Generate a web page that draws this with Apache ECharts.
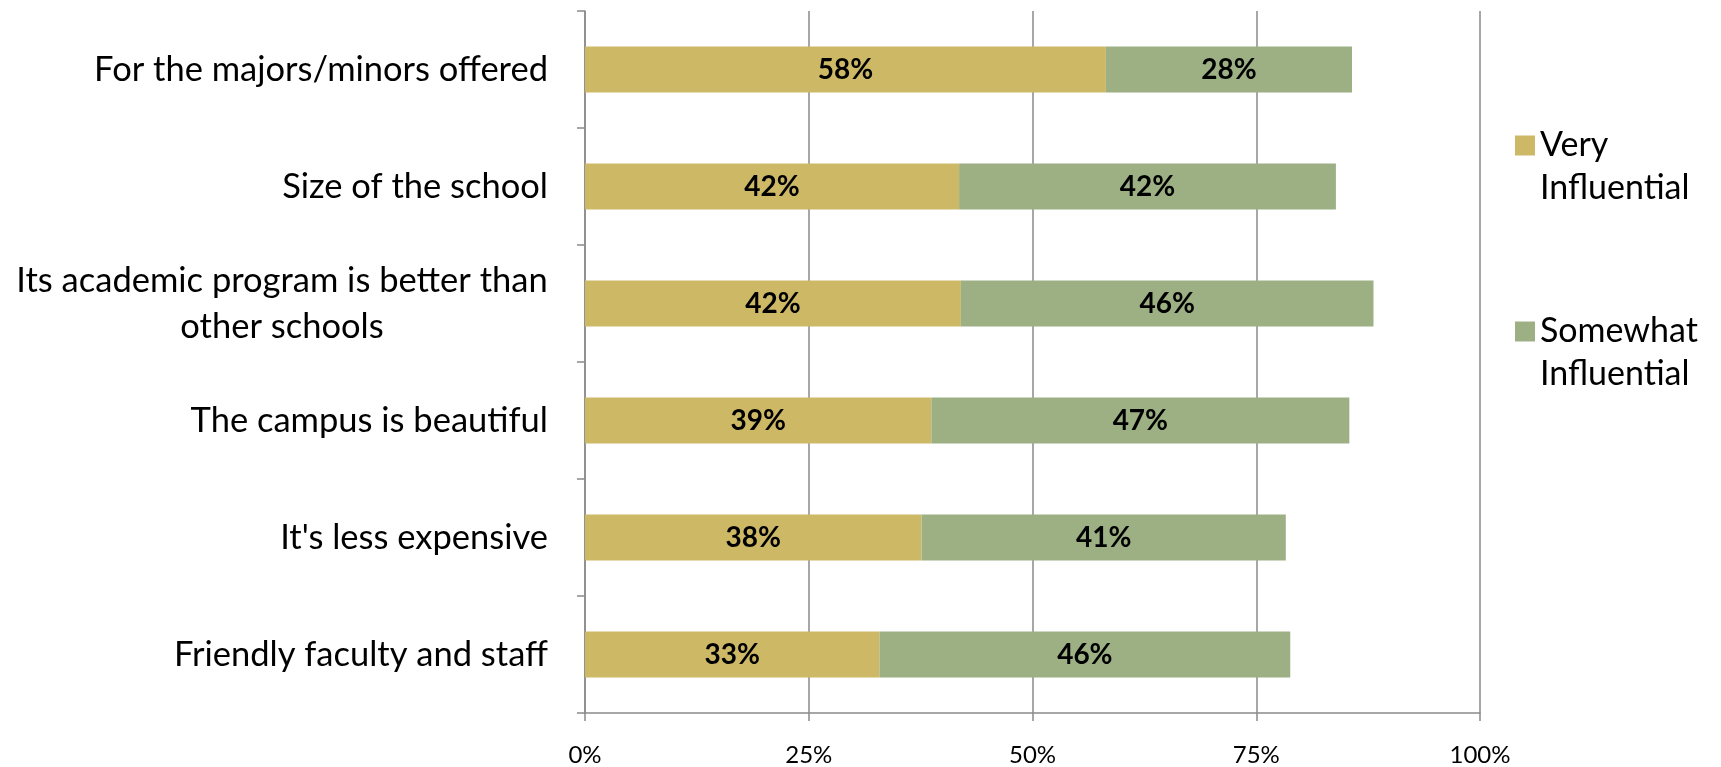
<!DOCTYPE html>
<html>
<head>
<meta charset="utf-8">
<script src="https://cdn.jsdelivr.net/npm/echarts@6/dist/echarts.min.js"></script>
<style>
html,body{margin:0;padding:0;background:#fff;}
#chart{width:1721px;height:767px;}
</style>
</head>
<body>
<div id="chart"></div>
<script>
const categories = [
  'For the majors/minors offered',
  'Size of the school',
  'Its academic program is better than\nother schools',
  'The campus is beautiful',
  "It's less expensive",
  'Friendly faculty and staff'
];
const veryInfluential = [58.2, 41.8, 42.0, 38.7, 37.6, 32.9];
const somewhatInfluential = [27.5, 42.1, 46.1, 46.7, 40.7, 45.9];
const seriesNames = ['Very Influential', 'Somewhat Influential'];
const xTicks = [0, 25, 50, 75, 100];

const FONT = 'Lato';
const catSize = 34.5;
const ctx = document.createElement('canvas').getContext('2d');
ctx.font = catSize + 'px ' + FONT;
let maxLineW = 0;
categories.forEach(c => {
  if (c.indexOf('\n') >= 0) {
    c.split('\n').forEach(l => { maxLineW = Math.max(maxLineW, ctx.measureText(l).width); });
  }
});

const chart = echarts.init(document.getElementById('chart'));
const gridColor = '#8a8a8a';
chart.setOption({
  animation: false,
  textStyle: { fontFamily: FONT },
  grid: { left: 585, right: 241, top: 11, bottom: 51, containLabel: false },
  legend: {
    orient: 'vertical',
    left: 1510,
    top: 76,
    itemWidth: 20,
    itemHeight: 20,
    itemGap: 57,
    icon: 'rect',
    data: seriesNames,
    formatter: n => ' \n' + n.replace(' ', '\n'),
    textStyle: { fontFamily: FONT, fontSize: 34, lineHeight: 43, color: '#000' }
  },
  xAxis: {
    type: 'value',
    min: xTicks[0],
    max: xTicks[xTicks.length - 1],
    interval: 25,
    axisLine: { show: true, lineStyle: { color: gridColor, width: 1.5 } },
    axisTick: { show: true, length: 8, lineStyle: { color: gridColor, width: 1.5 } },
    splitLine: { show: true, lineStyle: { color: gridColor, width: 1.5 } },
    axisLabel: {
      formatter: '{value}%',
      fontFamily: FONT,
      fontSize: 24,
      color: '#000',
      margin: 30
    }
  },
  yAxis: {
    type: 'category',
    inverse: true,
    data: categories,
    axisLine: { show: true, lineStyle: { color: gridColor, width: 1.5 } },
    axisTick: { show: true, length: 8, lineStyle: { color: gridColor, width: 1.5 } },
    axisLabel: {
      fontFamily: FONT,
      fontSize: catSize,
      lineHeight: 46,
      color: '#000',
      margin: 37,
      formatter: v => v.indexOf('\n') >= 0 ? v.split('\n').map(l => '{c|' + l + '}').join('\n') : v,
      rich: {
        c: { width: Math.ceil(maxLineW), align: 'center', fontFamily: FONT, fontSize: catSize, lineHeight: 46, color: '#000' }
      }
    }
  },
  series: [
    {
      name: seriesNames[0],
      type: 'bar',
      stack: 'total',
      barWidth: 46,
      data: veryInfluential,
      itemStyle: { color: '#CDB866' },
      label: {
        show: true, position: 'inside',
        formatter: p => Math.round(p.value) + '%',
        fontFamily: FONT, fontWeight: 'bold', fontSize: 28, color: '#000'
      }
    },
    {
      name: seriesNames[1],
      type: 'bar',
      stack: 'total',
      barWidth: 46,
      data: somewhatInfluential,
      itemStyle: { color: '#9CB084' },
      label: {
        show: true, position: 'inside',
        formatter: p => Math.round(p.value) + '%',
        fontFamily: FONT, fontWeight: 'bold', fontSize: 28, color: '#000'
      }
    }
  ]
});
</script>
</body>
</html>
